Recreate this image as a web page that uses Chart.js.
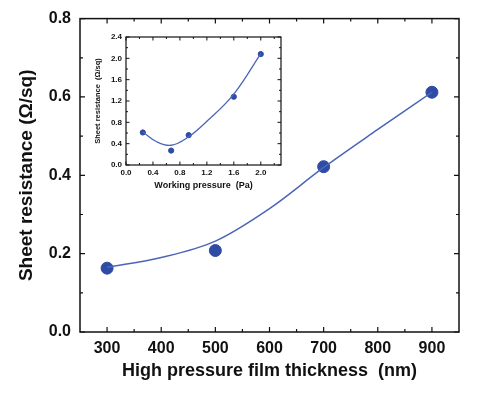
<!DOCTYPE html>
<html>
<head>
<meta charset="utf-8">
<script src="https://cdn.jsdelivr.net/npm/chart.js@4.4.1/dist/chart.umd.min.js"></script>
<style>
  body { margin: 0; background: #fff; }
  #wrap { position: relative; width: 500px; height: 393px; }
  #main { position: absolute; left: 0; top: 0; }
  #inset { position: absolute; left: 86px; top: 28px; }
</style>
</head>
<body>
<div id="wrap">
  <canvas id="main" width="500" height="393"></canvas>
  <canvas id="inset" width="204" height="166"></canvas>
</div>
<script>
// main plot: sheet resistance vs film thickness
const thickness = [300, 500, 700, 900];
const resistance = [0.163, 0.208, 0.422, 0.612];
// fitted curve
const fitThickness = [300, 400, 500, 600, 700, 800, 900];
const fitResistance = [0.165, 0.19, 0.232, 0.315, 0.42, 0.517, 0.612];
const mainXTicks = [300, 400, 500, 600, 700, 800, 900];
const mainYTicks = [0, 0.2, 0.4, 0.6, 0.8];

// inset: sheet resistance vs working pressure
const pressure = [0.25, 0.67, 0.93, 1.6, 2.0];
const insetResistance = [0.61, 0.27, 0.56, 1.28, 2.08];
const fitPressure = [0.25, 0.45, 0.67, 0.93, 1.2, 1.6, 2.0];
const fitInsetResistance = [0.62, 0.44, 0.37, 0.53, 0.82, 1.33, 2.09];
const insetXTicks = [0, 0.4, 0.8, 1.2, 1.6, 2.0];
const insetYTicks = [0, 0.4, 0.8, 1.2, 1.6, 2.0, 2.4];

const pointColor = '#2e4ba6';
const lineColor = '#4d65b8';
const font = "'Liberation Sans', Arial, sans-serif";

Chart.defaults.font.family = font;
Chart.defaults.color = '#111';

function pairs(xs, ys) {
  return xs.map((x, i) => ({ x: x, y: ys[i] }));
}

function useTicks(list) {
  return function (scale) {
    scale.ticks = list.map(v => ({ value: v }));
  };
}

// frame with inward ticks on all four sides
const framePlugin = {
  id: 'frame',
  afterDraw(chart, args, opts) {
    const { ctx, chartArea: a, scales } = chart;
    ctx.save();
    ctx.strokeStyle = '#111';
    ctx.lineWidth = opts.width;
    ctx.strokeRect(a.left, a.top, a.right - a.left, a.bottom - a.top);
    ctx.lineWidth = opts.tickWidth;
    ['x', 'y'].forEach(id => {
      const s = scales[id];
      const major = s.ticks.map(t => t.value);
      const step = major[1] - major[0];
      const minor = [];
      major.forEach(v => {
        [v - step / 2, v + step / 2].forEach(m => {
          if (m > s.min + 1e-9 && m < s.max - 1e-9 && !minor.some(k => Math.abs(k - m) < 1e-9)) minor.push(m);
        });
      });
      const draw = (v, len) => {
        const p = s.getPixelForValue(v);
        ctx.beginPath();
        if (id === 'x') {
          ctx.moveTo(p, a.bottom); ctx.lineTo(p, a.bottom - len);
          ctx.moveTo(p, a.top); ctx.lineTo(p, a.top + len);
        } else {
          ctx.moveTo(a.left, p); ctx.lineTo(a.left + len, p);
          ctx.moveTo(a.right, p); ctx.lineTo(a.right - len, p);
        }
        ctx.stroke();
      };
      major.forEach(v => draw(v, opts.major));
      minor.forEach(v => draw(v, opts.minor));
    });
    ctx.restore();
  }
};

new Chart(document.getElementById('main'), {
  type: 'scatter',
  data: {
    datasets: [{
      data: pairs(fitThickness, fitResistance),
      showLine: true,
      borderColor: lineColor,
      borderWidth: 1.5,
      pointRadius: 0,
      cubicInterpolationMode: 'monotone'
    }, {
      data: pairs(thickness, resistance),
      showLine: false,
      backgroundColor: pointColor,
      borderColor: pointColor,
      pointRadius: 6
    }]
  },
  options: {
    responsive: false,
    animation: false,
    events: [],
    layout: { padding: { top: 17, right: 41, left: 0, bottom: 0 } },
    plugins: {
      legend: { display: false },
      tooltip: { enabled: false },
      frame: { width: 1.5, tickWidth: 1.2, major: 5, minor: 3 }
    },
    scales: {
      x: {
        type: 'linear',
        min: 250, max: 950,
        afterBuildTicks: useTicks(mainXTicks),
        afterFit(s) { s.height = 61; },
        grid: { display: false, drawTicks: false },
        border: { display: false },
        ticks: { padding: 7, autoSkip: false, maxRotation: 0, font: { size: 16, weight: 'bold' }, callback: v => v.toFixed(0) },
        title: {
          display: true,
          text: 'High pressure film thickness  (nm)',
          font: { size: 18, weight: 'bold' },
          padding: { top: 0, bottom: 11 }
        }
      },
      y: {
        min: 0, max: 0.8,
        afterBuildTicks: useTicks(mainYTicks),
        afterFit(s) { s.width = 80; },
        grid: { display: false, drawTicks: false },
        border: { display: false },
        ticks: { padding: 9, autoSkip: false, font: { size: 16, weight: 'bold' }, callback: v => v.toFixed(1) },
        title: {
          display: true,
          text: 'Sheet resistance (\u03a9/sq)',
          font: { size: 19, weight: 'bold' },
          padding: { top: 15.5, bottom: 0 }
        }
      }
    }
  },
  plugins: [framePlugin]
});

const insetBg = {
  id: 'insetBg',
  beforeDraw(chart) {
    const { ctx, chartArea: a } = chart;
    ctx.save();
    ctx.fillStyle = '#fff';
    ctx.fillRect(a.left, a.top, a.right - a.left, a.bottom - a.top);
    ctx.restore();
  }
};

new Chart(document.getElementById('inset'), {
  type: 'scatter',
  data: {
    datasets: [{
      data: pairs(fitPressure, fitInsetResistance),
      showLine: true,
      borderColor: lineColor,
      borderWidth: 1.3,
      pointRadius: 0,
      tension: 0.4
    }, {
      data: pairs(pressure, insetResistance),
      showLine: false,
      backgroundColor: pointColor,
      borderColor: pointColor,
      pointRadius: 2.6
    }]
  },
  options: {
    responsive: false,
    animation: false,
    events: [],
    layout: { padding: { top: 9, right: 9, left: 0, bottom: 0 } },
    plugins: {
      legend: { display: false },
      tooltip: { enabled: false },
      frame: { width: 1.2, tickWidth: 1, major: 3.5, minor: 2 }
    },
    scales: {
      x: {
        type: 'linear',
        min: 0, max: 2.3,
        afterBuildTicks: useTicks(insetXTicks),
        afterFit(s) { s.height = 29; },
        grid: { display: false, drawTicks: false },
        border: { display: false },
        ticks: { padding: 3, autoSkip: false, maxRotation: 0, font: { size: 8, weight: 'bold' }, callback: v => v.toFixed(1) },
        title: {
          display: true,
          text: 'Working pressure  (Pa)',
          font: { size: 9, weight: 'bold' },
          padding: { top: 0, bottom: 2.6 }
        }
      },
      y: {
        min: 0, max: 2.4,
        afterBuildTicks: useTicks(insetYTicks),
        afterFit(s) { s.width = 40; },
        grid: { display: false, drawTicks: false },
        border: { display: false },
        ticks: { padding: 4, autoSkip: false, font: { size: 8, weight: 'bold' }, callback: v => v.toFixed(1) },
        title: {
          display: true,
          text: 'Sheet resistance  (\u03a9/sq)',
          font: { size: 7.5, weight: 'bold' },
          padding: { top: 7.5, bottom: 0 }
        }
      }
    }
  },
  plugins: [insetBg, framePlugin]
});
</script>
</body>
</html>
